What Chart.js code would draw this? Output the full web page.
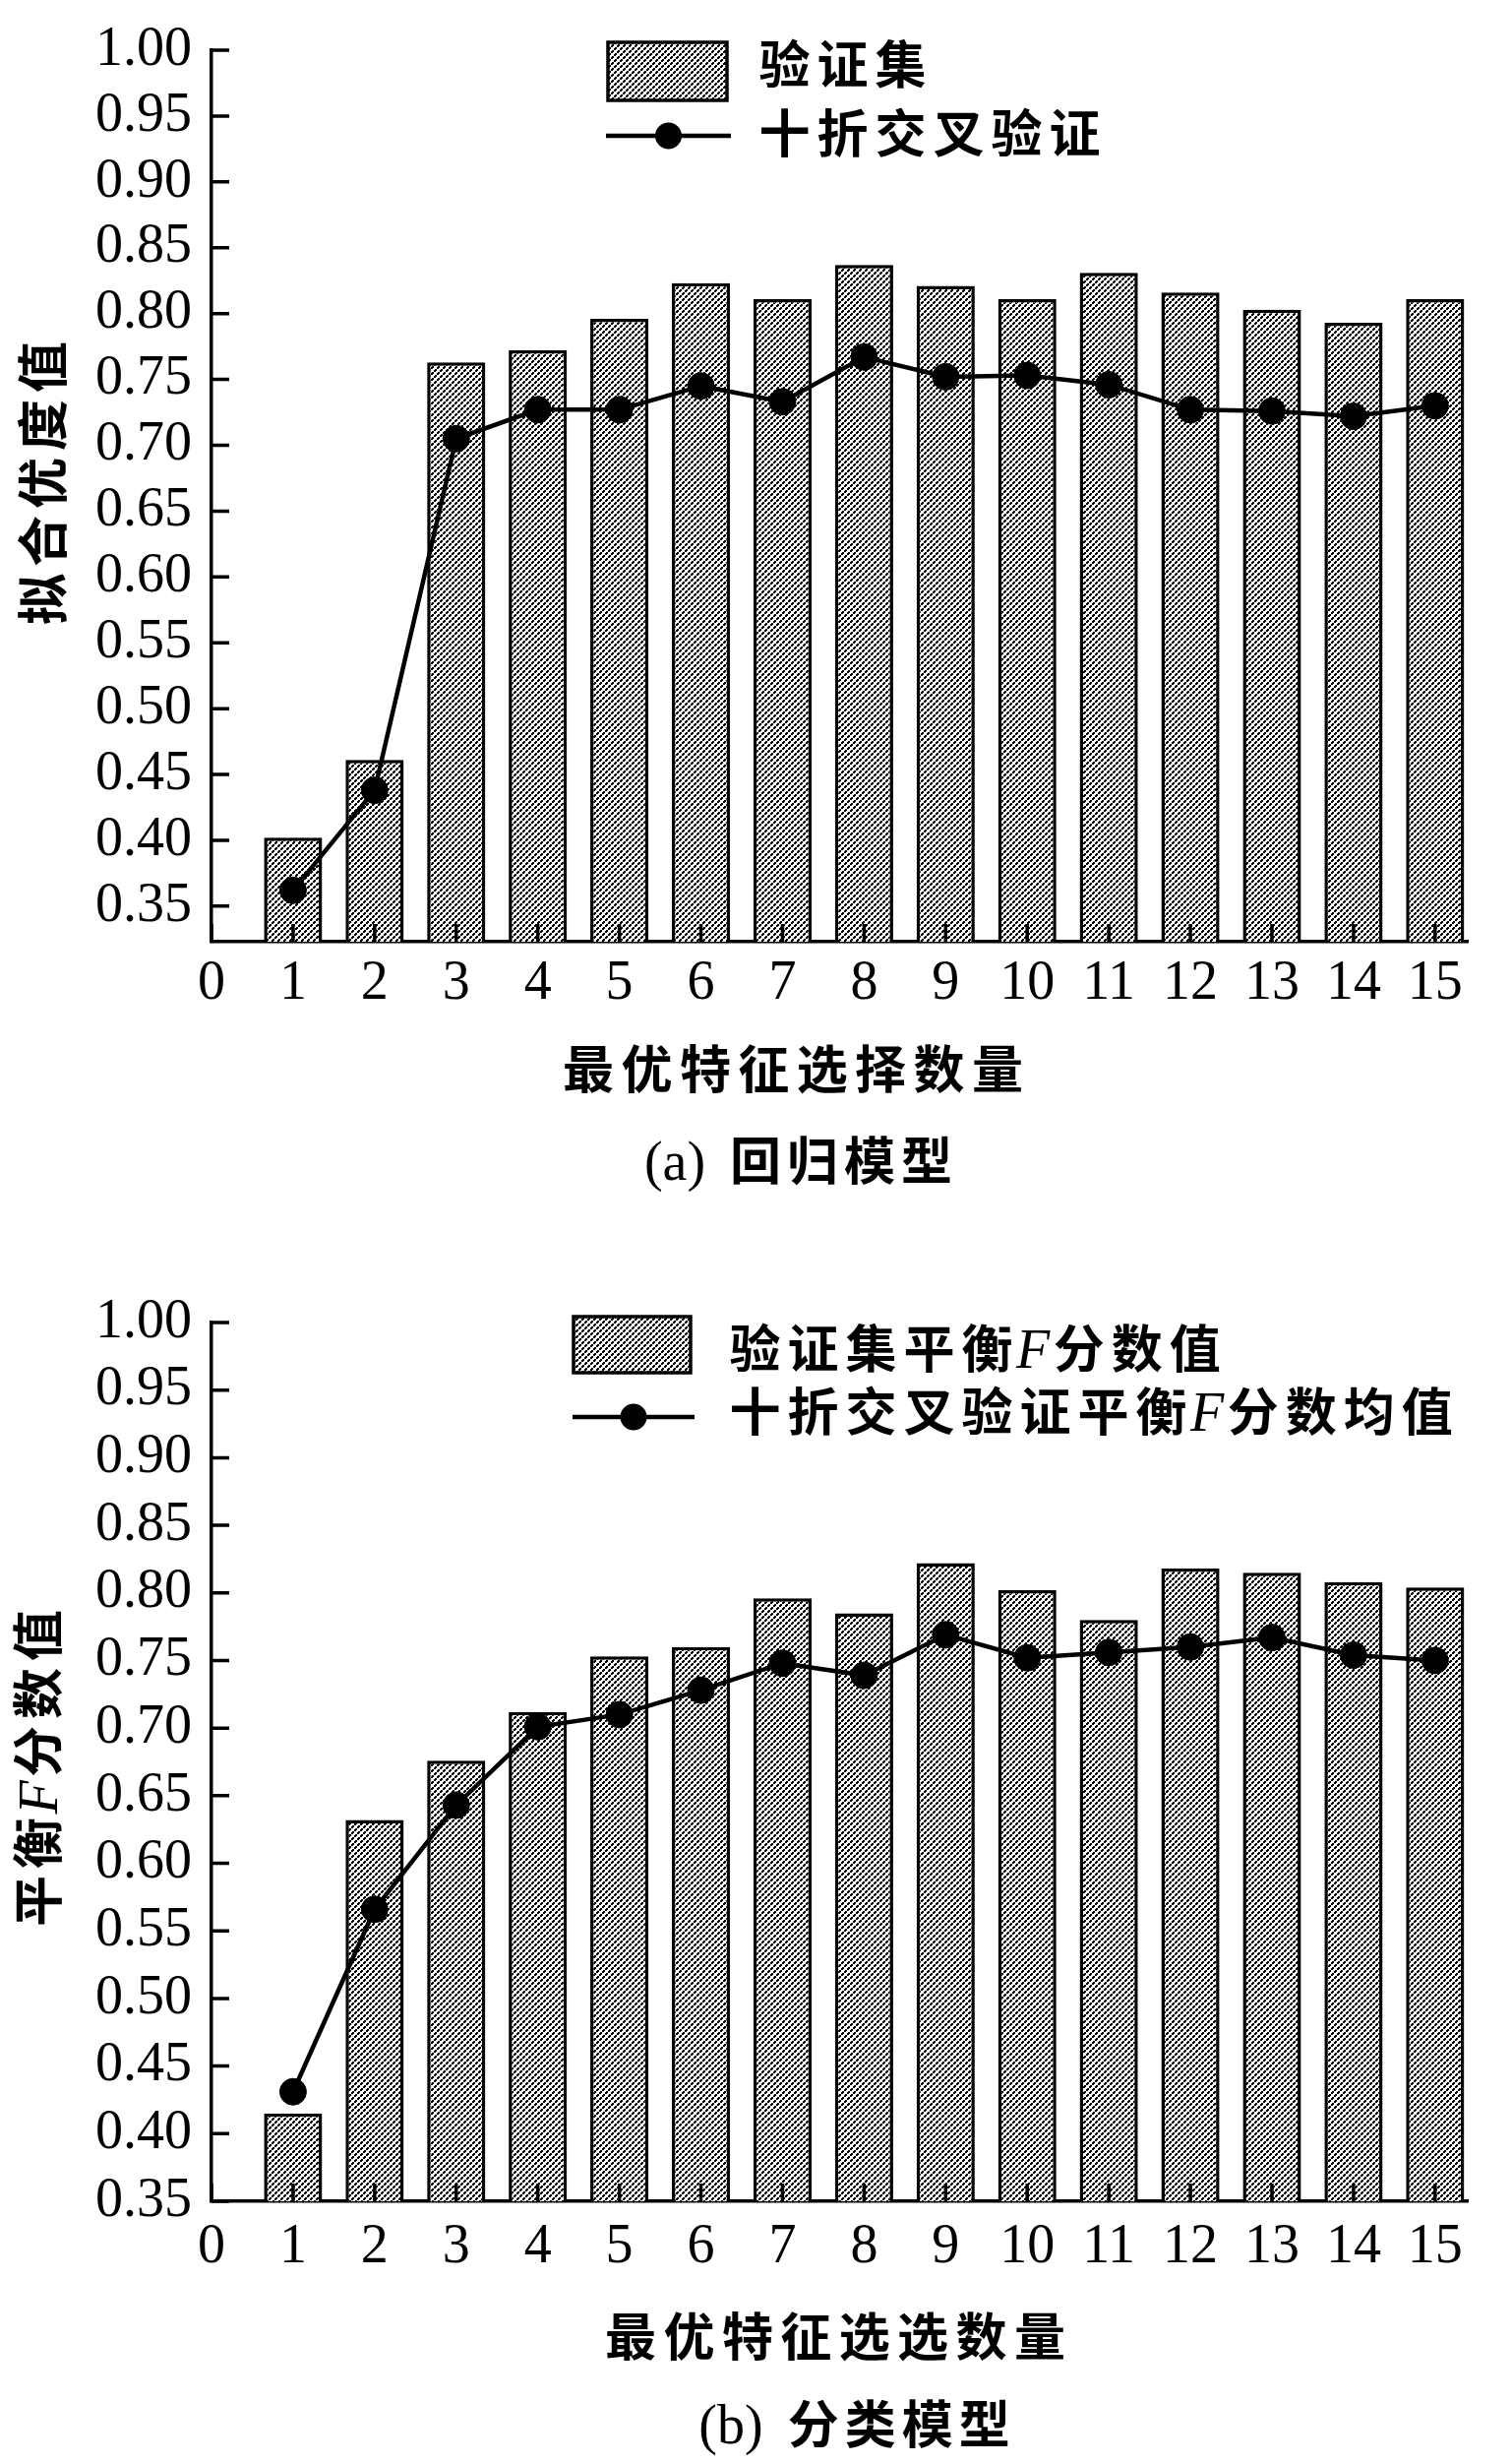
<!DOCTYPE html>
<html>
<head>
<meta charset="utf-8">
<script src="https://cdn.jsdelivr.net/npm/chart.js@4.4.1/dist/chart.umd.min.js"></script>
<style>
  html, body { margin: 0; padding: 0; background: #fff; }
  canvas { display: block; }
</style>
</head>
<body>
<canvas id="chartA" width="1537" height="1240"></canvas>
<canvas id="chartB" width="1537" height="1264"></canvas>
<script>
// number of selected features (x position of each bar / point)
var featureCounts = [1, 2, 3, 4, 5, 6, 7, 8, 9, 10, 11, 12, 13, 14, 15];
var xTickValues = [0, 1, 2, 3, 4, 5, 6, 7, 8, 9, 10, 11, 12, 13, 14, 15];
var yTickValues = [0.35, 0.40, 0.45, 0.50, 0.55, 0.60, 0.65, 0.70, 0.75, 0.80, 0.85, 0.90, 0.95, 1.00];

// (a) regression model
var regValidation = [0.402, 0.461, 0.763, 0.772, 0.796, 0.823, 0.811, 0.837, 0.821, 0.811, 0.831, 0.816, 0.803, 0.793, 0.811];
var regTenFold = [0.362, 0.438, 0.705, 0.727, 0.727, 0.745, 0.733, 0.767, 0.752, 0.753, 0.746, 0.727, 0.726, 0.722, 0.730];
var regLegend = ["验证集", "十折交叉验证"];

// (b) classification model
var clsValidation = [0.415, 0.632, 0.676, 0.712, 0.753, 0.760, 0.796, 0.785, 0.822, 0.802, 0.780, 0.818, 0.815, 0.808, 0.804];
var clsTenFold = [0.431, 0.566, 0.643, 0.701, 0.710, 0.728, 0.748, 0.739, 0.769, 0.752, 0.756, 0.760, 0.767, 0.754, 0.750];
var clsLegend = ["验证集平衡F分数值", "十折交叉验证平衡F分数均值"];

// stippled fill like the printed figure
function makePattern() {
  var c = document.createElement("canvas");
  c.width = 6; c.height = 6;
  var g = c.getContext("2d");
  g.fillStyle = "#fff";
  g.fillRect(0, 0, 6, 6);
  g.fillStyle = "#000";
  g.fillRect(0, 0, 3, 3);
  g.fillRect(3, 3, 3, 3);
  g.fillStyle = "#fff";
  g.fillRect(0, 0, 1, 1);
  g.fillRect(2, 2, 1, 1);
  g.fillRect(3, 3, 1, 1);
  g.fillRect(5, 5, 1, 1);
  return g.createPattern(c, "repeat");
}
var barFill = makePattern();

function isCJK(ch) { return ch.charCodeAt(0) > 0x2e80; }

// draws CJK text with serif latin, upper case latin in italic (F)
function drawRich(ctx, text, cx, cy, o) {
  var size = o.size || 52, adv = o.adv || 59, lat = o.latSize || 56;
  var cjkFont = "bold " + size + 'px "Noto Sans CJK SC"';
  var latFont = lat + 'px "Liberation Serif"';
  var itaFont = "italic " + lat + 'px "Liberation Serif"';
  var parts = [], W = 0;
  for (var i = 0; i < text.length; i++) {
    var ch = text[i], font, w, off = 0;
    if (ch === " ") { W += o.space || 20; continue; }
    if (isCJK(ch)) { font = cjkFont; w = adv; off = (adv - size) / 2; }
    else {
      font = /[A-Z]/.test(ch) ? itaFont : latFont;
      ctx.font = font;
      w = ctx.measureText(ch).width + (o.latGap || 0);
    }
    parts.push({ ch: ch, font: font, x: W + off });
    W += w;
  }
  ctx.save();
  ctx.translate(cx, cy);
  if (o.rotate) ctx.rotate(-Math.PI / 2);
  ctx.fillStyle = "#000";
  ctx.textAlign = "left";
  ctx.textBaseline = "alphabetic";
  var x0 = o.align === "left" ? 0 : -W / 2;
  var base = size * 0.37;
  parts.forEach(function (p) {
    ctx.font = p.font;
    ctx.fillText(p.ch, x0 + p.x, base);
  });
  ctx.restore();
}

var textPlugin = {
  id: "figureText",
  afterDraw: function (chart) {
    var t = chart.options.plugins.figureText;
    var ctx = chart.ctx;
    var xs = chart.scales.x, ys = chart.scales.y, area = chart.chartArea;
    ctx.save();
    // inward tick marks
    ctx.strokeStyle = "#000";
    ctx.lineWidth = 3.5;
    ctx.beginPath();
    xTickValues.forEach(function (v) {
      var px = xs.getPixelForValue(v);
      ctx.moveTo(px, area.bottom);
      ctx.lineTo(px, area.bottom - 18);
    });
    yTickValues.forEach(function (v) {
      var py = ys.getPixelForValue(v);
      ctx.moveTo(area.left, py);
      ctx.lineTo(area.left + 18, py);
    });
    ctx.stroke();
    // legend symbols
    ctx.fillStyle = barFill;
    ctx.fillRect(t.box[0], t.box[1], t.box[2], t.box[3]);
    ctx.lineWidth = 3.5;
    ctx.strokeRect(t.box[0], t.box[1], t.box[2], t.box[3]);
    ctx.beginPath();
    ctx.moveTo(t.line[0], t.line[2]);
    ctx.lineTo(t.line[1], t.line[2]);
    ctx.lineWidth = 4.5;
    ctx.stroke();
    ctx.beginPath();
    ctx.arc((t.line[0] + t.line[1]) / 2, t.line[2], 13.5, 0, 2 * Math.PI);
    ctx.fillStyle = "#000";
    ctx.fill();
    ctx.restore();
    drawRich(ctx, t.legend[0], t.textX, t.rows[0], { align: "left" });
    drawRich(ctx, t.legend[1], t.textX, t.rows[1], { align: "left" });
    // axis titles and caption
    drawRich(ctx, t.yTitle, t.yTitlePos[0], t.yTitlePos[1], { rotate: true, adv: 59 });
    drawRich(ctx, t.xTitle, t.xTitlePos[0], t.xTitlePos[1], { adv: 59.4 });
    drawRich(ctx, t.caption, t.capPos[0], t.capPos[1], { adv: 58, space: 22 });
  }
};

function makeChart(id, barVals, lineVals, opts) {
  var tickFont = { family: '"Liberation Serif"', size: 56 };
  return new Chart(document.getElementById(id), {
    type: "bar",
    data: {
      datasets: [
        {
          type: "line",
          order: 0,
          data: featureCounts.map(function (x, i) { return { x: x, y: lineVals[i] }; }),
          borderColor: "#000",
          borderWidth: 4.5,
          pointRadius: 13.5,
          pointBackgroundColor: "#000",
          pointBorderColor: "#000",
          pointBorderWidth: 1,
          tension: 0
        },
        {
          type: "bar",
          order: 1,
          data: featureCounts.map(function (x, i) { return { x: x, y: barVals[i] }; }),
          backgroundColor: barFill,
          borderColor: "#000",
          borderWidth: 3.5,
          categoryPercentage: 1,
          barPercentage: 0.713
        }
      ]
    },
    options: {
      responsive: false,
      animation: false,
      devicePixelRatio: 1,
      events: [],
      layout: { padding: { top: opts.top, right: 45, bottom: 0, left: 0 } },
      plugins: {
        legend: { display: false },
        tooltip: { enabled: false },
        figureText: opts.text
      },
      scales: {
        x: {
          type: "linear",
          offset: false,
          min: 0,
          max: 15.4,
          afterBuildTicks: function (s) { s.ticks = xTickValues.map(function (v) { return { value: v }; }); },
          afterFit: function (s) { s.height = opts.xHeight; },
          ticks: { font: tickFont, color: "#000", padding: opts.xPad, autoSkip: false, maxRotation: 0,
                   callback: function (v) { return String(v); } },
          grid: { display: false },
          border: { display: true, color: "#000", width: 3.5 }
        },
        y: {
          min: opts.yMin,
          max: 1.0,
          afterBuildTicks: function (s) { s.ticks = yTickValues.map(function (v) { return { value: v }; }); },
          afterFit: function (s) { s.width = 215; },
          ticks: { font: tickFont, color: "#000", padding: 12, autoSkip: false,
                   callback: function (v) { return v.toFixed(2); } },
          grid: { display: false },
          border: { display: true, color: "#000", width: 3.5 }
        }
      }
    },
    plugins: [textPlugin]
  });
}

makeChart("chartA", regValidation, regTenFold, {
  top: 51, xHeight: 283, xPad: 2, yMin: 0.323,
  text: {
    legend: regLegend,
    box: [618, 43, 121, 59],
    line: [616, 743, 138],
    textX: 768,
    rows: [66, 136],
    yTitle: "拟合优度值",
    yTitlePos: [44, 491],
    xTitle: "最优特征选择数量",
    xTitlePos: [806, 1087],
    caption: "(a) 回归模型",
    capPos: [813, 1180]
  }
});

makeChart("chartB", clsValidation, clsTenFold, {
  top: 104, xHeight: 267, xPad: 6, yMin: 0.35,
  text: {
    legend: clsLegend,
    box: [583, 98, 119, 57],
    line: [582, 706, 200],
    textX: 738,
    rows: [131, 195],
    yTitle: "平衡F分数值",
    yTitlePos: [39, 557],
    xTitle: "最优特征选选数量",
    xTitlePos: [849, 1135],
    caption: "(b) 分类模型",
    capPos: [870, 1224]
  }
});
</script>
</body>
</html>
